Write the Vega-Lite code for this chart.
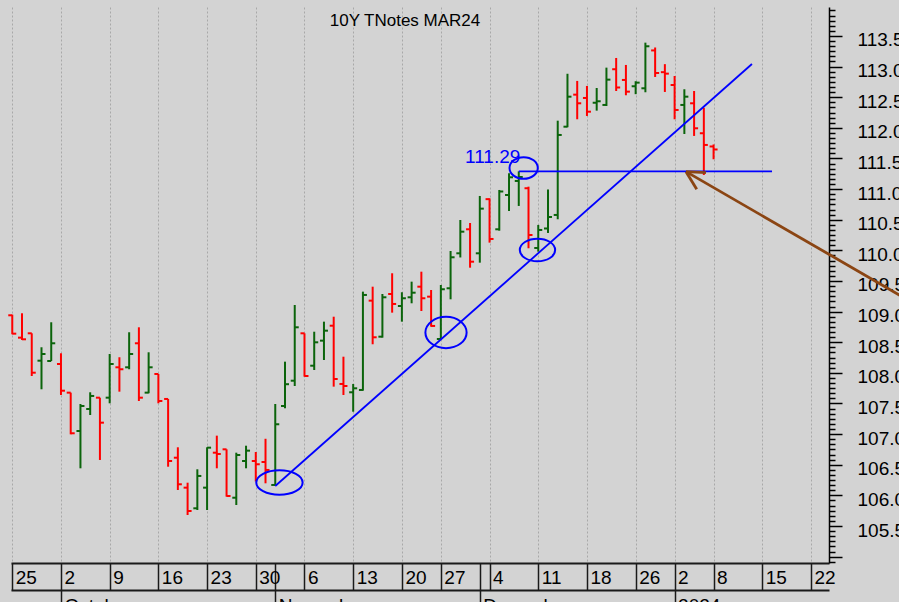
{
"$schema": "https://vega.github.io/schema/vega-lite/v6.json",
"width": 818, "height": 556,
"autosize": {"type": "none"},
"padding": {"left": 11, "top": 7, "right": 70, "bottom": 39},
"background": "#d3d3d3",
"config": {"view": {"stroke": null, "fill": "#d3d3d3"}, "font": "Liberation Sans"},
"title": {"text": "10Y TNotes MAR24", "font": "Liberation Sans", "fontSize": 17, "fontWeight": "normal", "color": "black", "anchor": "middle", "frame": "group", "dx": -15, "offset": -35.5, "baseline": "alphabetic"},
"datasets": {
"bars": [
{"d":"2023-09-25","i":0,"o":108.94,"h":108.95,"l":108.63,"c":108.64},
{"d":"2023-09-26","i":1,"o":108.575,"h":108.973,"l":108.537,"c":108.548},
{"d":"2023-09-27","i":2,"o":108.646,"h":108.646,"l":107.949,"c":108.003},
{"d":"2023-09-28","i":3,"o":108.199,"h":108.418,"l":107.732,"c":108.308},
{"d":"2023-09-29","i":4,"o":108.194,"h":108.826,"l":108.194,"c":108.483},
{"d":"2023-10-02","i":5,"o":108.145,"h":108.32,"l":107.639,"c":107.709},
{"d":"2023-10-03","i":6,"o":107.677,"h":107.677,"l":106.997,"c":107.014},
{"d":"2023-10-04","i":7,"o":107.051,"h":107.492,"l":106.442,"c":107.459},
{"d":"2023-10-05","i":8,"o":107.41,"h":107.683,"l":107.312,"c":107.623},
{"d":"2023-10-06","i":9,"o":107.595,"h":107.595,"l":106.578,"c":107.187},
{"d":"2023-10-09","i":10,"o":107.595,"h":108.308,"l":107.503,"c":108.145},
{"d":"2023-10-10","i":11,"o":108.091,"h":108.255,"l":107.693,"c":108.059},
{"d":"2023-10-11","i":12,"o":108.091,"h":108.663,"l":108.059,"c":108.308},
{"d":"2023-10-12","i":13,"o":108.483,"h":108.744,"l":107.541,"c":107.595},
{"d":"2023-10-13","i":14,"o":107.677,"h":108.336,"l":107.667,"c":108.091},
{"d":"2023-10-16","i":15,"o":107.982,"h":107.982,"l":107.503,"c":107.541},
{"d":"2023-10-17","i":16,"o":107.574,"h":107.574,"l":106.468,"c":106.561},
{"d":"2023-10-18","i":17,"o":106.615,"h":106.785,"l":106.088,"c":106.181},
{"d":"2023-10-19","i":18,"o":106.126,"h":106.207,"l":105.68,"c":105.745},
{"d":"2023-10-20","i":19,"o":105.789,"h":106.426,"l":105.761,"c":106.317},
{"d":"2023-10-23","i":20,"o":106.126,"h":106.785,"l":105.761,"c":106.779},
{"d":"2023-10-24","i":21,"o":106.697,"h":106.975,"l":106.442,"c":106.676},
{"d":"2023-10-25","i":22,"o":106.752,"h":106.752,"l":105.979,"c":105.99},
{"d":"2023-10-26","i":23,"o":105.962,"h":106.697,"l":105.843,"c":106.659},
{"d":"2023-10-27","i":24,"o":106.561,"h":106.811,"l":106.442,"c":106.73},
{"d":"2023-10-30","i":25,"o":106.561,"h":106.708,"l":106.227,"c":106.508},
{"d":"2023-10-31","i":26,"o":106.545,"h":106.924,"l":106.197,"c":106.415},
{"d":"2023-11-01","i":27,"o":106.17,"h":107.492,"l":106.17,"c":107.161},
{"d":"2023-11-02","i":28,"o":107.459,"h":108.183,"l":107.422,"c":107.815},
{"d":"2023-11-03","i":29,"o":107.872,"h":109.108,"l":107.786,"c":108.744},
{"d":"2023-11-06","i":30,"o":108.646,"h":108.646,"l":107.938,"c":107.949},
{"d":"2023-11-07","i":31,"o":108.117,"h":108.672,"l":108.047,"c":108.499},
{"d":"2023-11-08","i":32,"o":108.526,"h":108.836,"l":108.21,"c":108.689},
{"d":"2023-11-09","i":33,"o":108.77,"h":108.917,"l":107.775,"c":107.9},
{"d":"2023-11-10","i":34,"o":107.819,"h":108.264,"l":107.639,"c":107.786},
{"d":"2023-11-13","i":35,"o":107.683,"h":107.819,"l":107.366,"c":107.748},
{"d":"2023-11-14","i":36,"o":107.721,"h":109.326,"l":107.709,"c":109.272},
{"d":"2023-11-15","i":37,"o":109.179,"h":109.407,"l":108.467,"c":108.581},
{"d":"2023-11-16","i":38,"o":108.591,"h":109.288,"l":108.575,"c":109.234},
{"d":"2023-11-17","i":39,"o":109.288,"h":109.626,"l":108.983,"c":109.125},
{"d":"2023-11-20","i":40,"o":109.092,"h":109.316,"l":108.836,"c":109.218},
{"d":"2023-11-21","i":41,"o":109.234,"h":109.489,"l":109.136,"c":109.309},
{"d":"2023-11-22","i":42,"o":109.407,"h":109.652,"l":109.01,"c":109.218},
{"d":"2023-11-24","i":43,"o":109.244,"h":109.353,"l":108.754,"c":108.766},
{"d":"2023-11-27","i":44,"o":108.553,"h":109.435,"l":108.553,"c":109.365},
{"d":"2023-11-28","i":45,"o":109.381,"h":109.99,"l":109.201,"c":109.887},
{"d":"2023-11-29","i":46,"o":109.952,"h":110.496,"l":109.884,"c":110.305},
{"d":"2023-11-30","i":47,"o":110.344,"h":110.447,"l":109.717,"c":109.815},
{"d":"2023-12-01","i":48,"o":109.952,"h":110.888,"l":109.799,"c":110.681},
{"d":"2023-12-04","i":49,"o":110.836,"h":110.85,"l":110.126,"c":110.186},
{"d":"2023-12-05","i":50,"o":110.344,"h":110.986,"l":110.321,"c":110.961},
{"d":"2023-12-06","i":51,"o":110.904,"h":111.259,"l":110.643,"c":111.193},
{"d":"2023-12-07","i":52,"o":111.133,"h":111.29,"l":110.725,"c":111.198},
{"d":"2023-12-08","i":53,"o":111.014,"h":111.04,"l":110.034,"c":110.251},
{"d":"2023-12-11","i":54,"o":110.039,"h":110.415,"l":109.979,"c":110.333},
{"d":"2023-12-12","i":55,"o":110.357,"h":110.994,"l":110.284,"c":110.545},
{"d":"2023-12-13","i":56,"o":110.578,"h":112.117,"l":110.508,"c":111.884},
{"d":"2023-12-14","i":57,"o":112.019,"h":112.883,"l":112.01,"c":112.509},
{"d":"2023-12-15","i":58,"o":112.542,"h":112.766,"l":112.14,"c":112.401},
{"d":"2023-12-18","i":59,"o":112.488,"h":112.684,"l":112.194,"c":112.264},
{"d":"2023-12-19","i":60,"o":112.41,"h":112.651,"l":112.281,"c":112.434},
{"d":"2023-12-20","i":61,"o":112.374,"h":112.983,"l":112.357,"c":112.787},
{"d":"2023-12-21","i":62,"o":112.957,"h":113.141,"l":112.602,"c":112.659},
{"d":"2023-12-22","i":63,"o":112.782,"h":113.027,"l":112.532,"c":112.591},
{"d":"2023-12-26","i":64,"o":112.679,"h":112.761,"l":112.55,"c":112.738},
{"d":"2023-12-27","i":65,"o":112.646,"h":113.391,"l":112.581,"c":113.332},
{"d":"2023-12-28","i":66,"o":113.264,"h":113.312,"l":112.831,"c":112.896},
{"d":"2023-12-29","i":67,"o":112.909,"h":113.04,"l":112.586,"c":112.885},
{"d":"2024-01-02","i":68,"o":112.7,"h":112.847,"l":112.14,"c":112.292},
{"d":"2024-01-03","i":69,"o":112.374,"h":112.63,"l":111.9,"c":112.509},
{"d":"2024-01-04","i":70,"o":112.401,"h":112.602,"l":111.868,"c":111.993},
{"d":"2024-01-05","i":71,"o":111.912,"h":112.328,"l":111.231,"c":111.721},
{"d":"2024-01-08","i":72,"o":111.696,"h":111.729,"l":111.487,"c":111.647}
],
"lines": [
{"k":"trend","x1":27.0,"y1":106.153,"x2":75.94,"y2":113.043},
{"k":"level","x1":52.0,"y1":111.29,"x2":78.0,"y2":111.29}
],
"arrow": [
{"k":"shaft","x1":69.17,"y1":111.285,"x2":92.5,"y2":109.14},
{"k":"barb1","x1":69.17,"y1":111.285,"x2":71.22,"y2":111.268},
{"k":"barb2","x1":69.17,"y1":111.285,"x2":70.27,"y2":110.997}
],
"rings": [
{"n":"a","x":27.43,"y":106.21},
{"n":"b","x":44.53,"y":108.659},
{"n":"c","x":53.92,"y":110.006},
{"n":"d","x":52.5,"y":111.345}
],
"notes": [
{"t":"111.29","x":46.48,"y":111.427}
]
},
"resolve": {"axis": {"x": "independent", "y": "independent"}},
"layer": [
{
"data": {"name": "bars"},
"mark": {"type": "rule", "strokeWidth": 2},
"encoding": {
"x": {"field": "i", "type": "quantitative",
 "scale": {"domain": [-0.13, 83.85], "nice": false, "zero": false},
 "axis": {"orient": "bottom", "title": null,
  "values": [0,5,10,15,20,25,27,30,35,40,44,48,49,54,59,64,68,72,77,82],
  "labelExpr": "datum.value==0?'25':datum.value==5?'2':datum.value==10?'9':datum.value==15?'16':datum.value==20?'23':datum.value==25?'30':datum.value==30?'6':datum.value==35?'13':datum.value==40?'20':datum.value==44?'27':datum.value==49?'4':datum.value==54?'11':datum.value==59?'18':datum.value==64?'26':datum.value==68?'2':datum.value==72?'8':datum.value==77?'15':datum.value==82?'22':''",
  "grid": true, "gridColor": "#a8a8a8", "gridDash": [2,2], "gridWidth": 1,
  "gridOpacity": {"condition": {"test": "datum.value==27||datum.value==48", "value": 0}, "value": 1},
  "domainColor": "#1a1a1a", "domainWidth": 2,
  "tickColor": "#1a1a1a", "tickWidth": 1.5, "tickSize": 27,
  "labelAlign": "left", "labelBaseline": "alphabetic", "labelOffset": 3, "labelPadding": -7,
  "labelFontSize": 19, "labelColor": "black", "labelFont": "Liberation Sans",
  "labelOverlap": false, "labelFlush": false, "labelBound": false}},
"y": {"field": "l", "type": "quantitative",
 "scale": {"domain": [104.896, 113.973], "nice": false, "zero": false},
 "axis": {"orient": "right", "title": null,
  "values": [105,105.5,106,106.5,107,107.5,108,108.5,109,109.5,110,110.5,111,111.5,112,112.5,113,113.5],
  "labelExpr": "datum.value < 105.2 ? '' : format(datum.value, '.1f')",
  "tickSize": 13, "tickColor": "black", "tickWidth": 1.5,
  "domain": true, "domainColor": "black", "domainWidth": 1.5,
  "grid": false,
  "labelFontSize": 19, "labelColor": "black", "labelFont": "Liberation Sans",
  "labelAlign": "left", "labelBaseline": "middle", "labelPadding": 15, "labelOffset": 4,
  "labelOverlap": false, "labelFlush": false, "labelBound": false}},
"y2": {"field": "h"},
"color": {"condition": {"test": "datum.c < datum.o", "value": "#ff0000"}, "value": "#0b640b"}
}
},
{
"data": {"name": "bars"},
"mark": {"type": "rule", "strokeWidth": 2, "xOffset": -4},
"encoding": {
"x": {"field": "i", "type": "quantitative", "axis": null},
"x2": {"field": "i"},
"y": {"field": "o", "type": "quantitative",
 "axis": {"orient": "right", "title": null, "labels": false, "domain": false, "grid": false,
  "tickSize": 6, "tickColor": "black", "tickWidth": 1.5,
  "values": [104.9167,105.0833,105.1667,105.25,105.3333,105.4167,105.5833,105.6667,105.75,105.8333,105.9167,106.0833,106.1667,106.25,106.3333,106.4167,106.5833,106.6667,106.75,106.8333,106.9167,107.0833,107.1667,107.25,107.3333,107.4167,107.5833,107.6667,107.75,107.8333,107.9167,108.0833,108.1667,108.25,108.3333,108.4167,108.5833,108.6667,108.75,108.8333,108.9167,109.0833,109.1667,109.25,109.3333,109.4167,109.5833,109.6667,109.75,109.8333,109.9167,110.0833,110.1667,110.25,110.3333,110.4167,110.5833,110.6667,110.75,110.8333,110.9167,111.0833,111.1667,111.25,111.3333,111.4167,111.5833,111.6667,111.75,111.8333,111.9167,112.0833,112.1667,112.25,112.3333,112.4167,112.5833,112.6667,112.75,112.8333,112.9167,113.0833,113.1667,113.25,113.3333,113.4167,113.5833,113.6667,113.75,113.8333,113.9167]}},
"color": {"condition": {"test": "datum.c < datum.o", "value": "#ff0000"}, "value": "#0b640b"}
}
},
{
"data": {"name": "bars"},
"mark": {"type": "rule", "strokeWidth": 2, "x2Offset": 4},
"encoding": {
"x": {"field": "i", "type": "quantitative", "axis": null},
"x2": {"field": "i"},
"y": {"field": "c", "type": "quantitative", "axis": null},
"color": {"condition": {"test": "datum.c < datum.o", "value": "#ff0000"}, "value": "#0b640b"}
}
},
{
"data": {"name": "lines"},
"mark": {"type": "rule", "strokeWidth": 1.8, "color": "#0000ff"},
"encoding": {
"x": {"field": "x1", "type": "quantitative",
 "axis": {"orient": "bottom", "offset": 27, "title": null, "grid": false,
  "values": [5,27,48,68],
  "labelExpr": "datum.value==5?'October':datum.value==27?'November':datum.value==48?'December':'2024'",
  "domainColor": "#1a1a1a", "domainWidth": 2,
  "tickColor": "#1a1a1a", "tickWidth": 1.5, "tickSize": 15,
  "labelAlign": "left", "labelBaseline": "top", "labelOffset": 3, "labelPadding": -9,
  "labelFontSize": 19, "labelColor": "black", "labelFont": "Liberation Sans",
  "labelOverlap": false, "labelFlush": false, "labelBound": false}},
"x2": {"field": "x2"},
"y": {"field": "y1", "type": "quantitative", "axis": null},
"y2": {"field": "y2"}
}
},
{
"data": {"name": "arrow"},
"mark": {"type": "rule", "strokeWidth": 2.8, "color": "#8b4513"},
"encoding": {
"x": {"field": "x1", "type": "quantitative", "axis": null},
"x2": {"field": "x2"},
"y": {"field": "y1", "type": "quantitative", "axis": null},
"y2": {"field": "y2"}
}
},
{
"data": {"name": "rings"},
"mark": {"type": "point", "filled": false, "strokeWidth": 2, "color": "#0000ff", "opacity": 1},
"encoding": {
"x": {"field": "x", "type": "quantitative", "axis": null},
"y": {"field": "y", "type": "quantitative", "axis": null},
"shape": {"field": "n", "type": "nominal", "legend": null,
 "scale": {"domain": ["a","b","c","d"], "range": [
  "M1,0C1,0.294,0.552,0.532,0,0.532C-0.552,0.532,-1,0.294,-1,0C-1,-0.294,-0.552,-0.532,0,-0.532C0.552,-0.532,1,-0.294,1,0Z",
  "M1,0C1,0.419,0.552,0.759,0,0.759C-0.552,0.759,-1,0.419,-1,0C-1,-0.419,-0.552,-0.759,0,-0.759C0.552,-0.759,1,-0.419,1,0Z",
  "M1,0C1,0.354,0.552,0.641,0,0.641C-0.552,0.641,-1,0.354,-1,0C-1,-0.354,-0.552,-0.641,0,-0.641C0.552,-0.641,1,-0.354,1,0Z",
  "M1,0C1,0.423,0.552,0.766,0,0.766C-0.552,0.766,-1,0.423,-1,0C-1,-0.423,-0.552,-0.766,0,-0.766C0.552,-0.766,1,-0.423,1,0Z"]}},
"size": {"field": "n", "type": "ordinal", "legend": null,
 "scale": {"domain": ["a","b","c","d"], "range": [2150, 800, 1470, 720]}}
}
},
{
"data": {"name": "notes"},
"mark": {"type": "text", "align": "left", "baseline": "alphabetic", "fontSize": 19, "font": "Liberation Sans", "color": "#0000ff"},
"encoding": {
"x": {"field": "x", "type": "quantitative", "axis": null},
"y": {"field": "y", "type": "quantitative", "axis": null},
"text": {"field": "t"}
}
}
]
}
